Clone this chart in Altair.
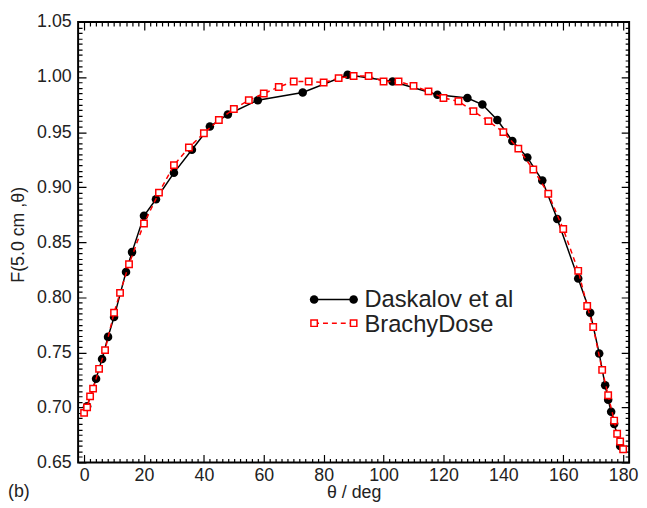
import altair as alt
import pandas as pd

# ---- data ----
daskalov_theta = [1, 4, 6, 8, 10, 14, 16, 20, 24, 30, 36, 42, 48, 58, 73, 88, 103, 118,
                  128, 133, 138, 143, 148, 153, 158, 165, 169, 172, 174, 175, 176, 177, 179]
daskalov_F = [0.701, 0.726, 0.744, 0.764, 0.782, 0.823, 0.841, 0.874, 0.889, 0.913, 0.934,
              0.955, 0.966, 0.979, 0.986, 1.002, 0.996, 0.984, 0.981, 0.975, 0.961, 0.942,
              0.927, 0.906, 0.871, 0.817, 0.786, 0.749, 0.720, 0.707, 0.696, 0.685, 0.665]

brachy_theta = [0, 1, 2, 3, 5, 7, 10, 12, 15, 20, 25, 30, 35, 40, 45, 50, 55, 60, 65, 70,
                75, 80, 85, 90, 95, 100, 105, 110, 115, 120, 125, 130, 135, 140, 145, 150,
                155, 160, 165, 168, 170, 173, 175, 177, 178, 179, 180]
brachy_F = [0.695, 0.700, 0.710, 0.717, 0.735, 0.752, 0.786, 0.804, 0.830, 0.867, 0.895,
            0.920, 0.936, 0.949, 0.961, 0.971, 0.979, 0.985, 0.991, 0.996, 0.996, 0.995,
            0.999, 1.001, 1.001, 0.996, 0.996, 0.992, 0.987, 0.981, 0.978, 0.969, 0.960,
            0.950, 0.935, 0.916, 0.894, 0.862, 0.824, 0.792, 0.773, 0.734, 0.711, 0.688,
            0.676, 0.669, 0.662]

x_ticks = list(range(0, 181, 2))                       # labelled every 20
y_ticks = [round(0.65 + 0.005 * i, 3) for i in range(81)]  # labelled every 0.05

series_names = ["Daskalov et al", "BrachyDose"]

# ---- layout ----
W, H = 558, 446
FONT = "Liberation Sans"
TXT = "#222222"

xs = alt.Scale(domain=[-2, 182], nice=False, zero=False)
ys = alt.Scale(domain=[0.65, 1.05], nice=False, zero=False)

# inward ticks on all four sides: grid lines dashed so that only both ends show
xaxis = alt.Axis(title="θ / deg", values=x_ticks, ticks=False, domain=False,
                 grid=True, gridColor="black", gridOpacity=1, gridWidth=1.2,
                 gridDash={"condition": {"test": "datum.value % 20 === 0",
                                         "value": [8, H - 16]},
                           "value": [4, H - 8]},
                 labelExpr="datum.value % 20 === 0 ? datum.label : ''",
                 labelOverlap=False,
                 labelFontSize=18, labelFont=FONT, labelColor=TXT, labelPadding=4,
                 labelFlush=False, titleFontSize=18, titleFont=FONT, titleColor=TXT,
                 titleFontWeight="normal", titleY=36, titleBaseline="alphabetic")
yaxis = alt.Axis(title="F(5.0 cm ,θ)", values=y_ticks, format=".2f", ticks=False,
                 domain=False, grid=True, gridColor="black", gridOpacity=1, gridWidth=1.2,
                 gridDash={"condition": {"test": "round(datum.value * 1000) % 50 === 0",
                                         "value": [8, W - 16]},
                           "value": [4, W - 8]},
                 labelExpr="round(datum.value * 1000) % 50 === 0 ? datum.label : ''",
                 labelOverlap=False,
                 labelFontSize=18, labelFont=FONT,
                 labelColor=TXT, labelPadding=7, labelFlush=False, titleFontSize=18,
                 titleFont=FONT, titleColor=TXT, titleFontWeight="normal",
                 titleX=-60, titleY=215, titleAngle=270, titleAlign="center",
                 titleBaseline="middle")

X = lambda f: alt.X(f, scale=xs, axis=xaxis)
Y = lambda f: alt.Y(f, scale=ys, axis=yaxis)

dask = pd.DataFrame({"theta": daskalov_theta, "F": daskalov_F})
brachy = pd.DataFrame({"theta": brachy_theta, "F": brachy_F})

dask_line = alt.Chart(dask).mark_line(color="black", strokeWidth=1.5).encode(
    x=X("theta:Q"), y=Y("F:Q"))
dask_pts = alt.Chart(dask).mark_circle(color="black", size=75, opacity=1).encode(
    x=X("theta:Q"), y=Y("F:Q"))
br_line = alt.Chart(brachy).mark_line(color="red", strokeWidth=1.5, strokeDash=[5, 4]).encode(
    x=X("theta:Q"), y=Y("F:Q"))
br_pts = alt.Chart(brachy).mark_point(shape="square", filled=True, fill="white", stroke="red",
                                      strokeWidth=1.5, size=42, opacity=1).encode(
    x=X("theta:Q"), y=Y("F:Q"))

one = pd.DataFrame({"k": [0]})
leg = [
    alt.Chart(one).mark_rule(color="black", strokeWidth=1.5).encode(
        x=alt.value(239), x2=alt.value(279), y=alt.value(281)),
    alt.Chart(one).mark_circle(color="black", size=75, opacity=1).encode(
        x=alt.value(239), y=alt.value(281)),
    alt.Chart(one).mark_circle(color="black", size=75, opacity=1).encode(
        x=alt.value(279), y=alt.value(281)),
    alt.Chart(one).mark_text(text=series_names[0], align="left", baseline="alphabetic",
                             fontSize=24, font=FONT, color=TXT).encode(
        x=alt.value(290), y=alt.value(289)),
    alt.Chart(one).mark_rule(color="red", strokeWidth=1.5, strokeDash=[5, 4]).encode(
        x=alt.value(239), x2=alt.value(279), y=alt.value(305)),
    alt.Chart(one).mark_point(shape="square", filled=True, fill="white", stroke="red",
                              strokeWidth=1.5, size=42, opacity=1).encode(
        x=alt.value(239), y=alt.value(305)),
    alt.Chart(one).mark_point(shape="square", filled=True, fill="white", stroke="red",
                              strokeWidth=1.5, size=42, opacity=1).encode(
        x=alt.value(279), y=alt.value(305)),
    alt.Chart(one).mark_text(text=series_names[1], align="left", baseline="alphabetic",
                             fontSize=24, font=FONT, color=TXT).encode(
        x=alt.value(290), y=alt.value(314)),
    alt.Chart(one).mark_text(text="(b)", align="left", baseline="alphabetic",
                             fontSize=18, font=FONT, color=TXT).encode(
        x=alt.value(-71), y=alt.value(481)),
]

chart = alt.layer(dask_line, dask_pts, br_line, br_pts, *leg).properties(
    width=W, height=H,
    autosize=alt.AutoSizeParams(type="none"),
    padding={"left": 71, "top": 11, "right": 10, "bottom": 43},
).configure_view(stroke="black", strokeWidth=2)

chart.save("out.html", embed_options={"renderer": "svg", "actions": False})
